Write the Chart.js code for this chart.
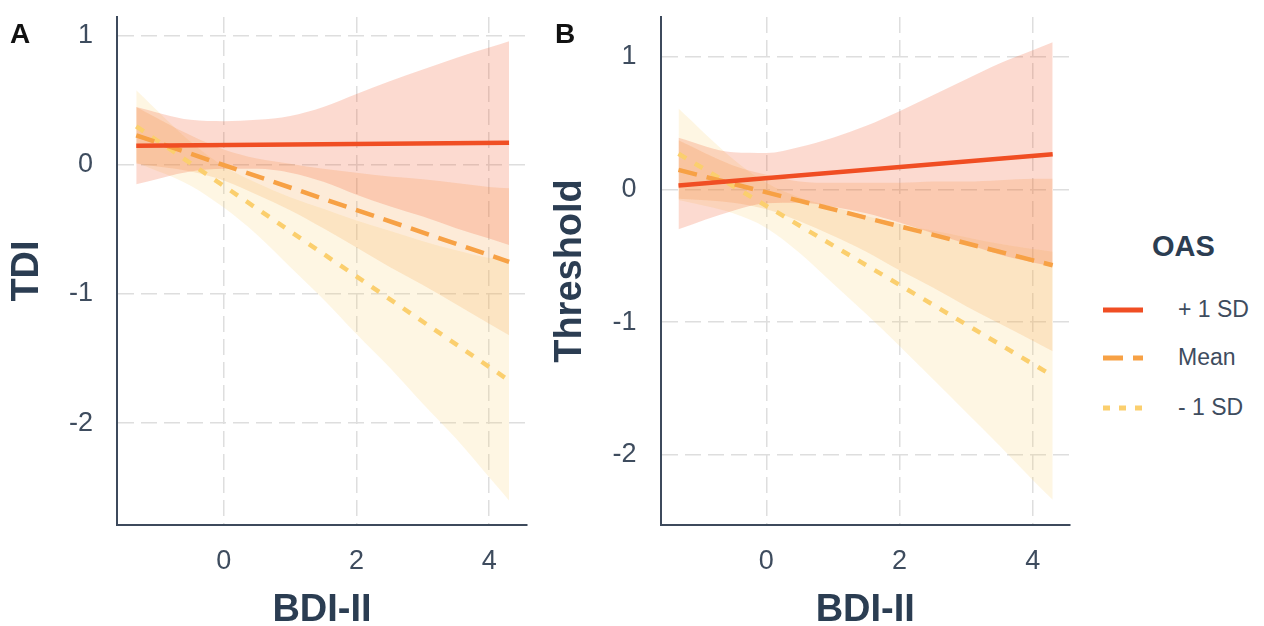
<!DOCTYPE html>
<html>
<head>
<meta charset="utf-8">
<script src="https://cdn.jsdelivr.net/npm/chart.js@4.4.1/dist/chart.umd.min.js"></script>
<style>
  body { margin: 0; background: #fff; width: 1264px; height: 626px; overflow: hidden; position: relative;
         font-family: 'Liberation Sans', Arial, sans-serif; }
  canvas { position: absolute; top: 0; }
  #chartA { left: 0; }
  #chartB { left: 540px; }
  .tag { position: absolute; font-weight: bold; font-size: 28px; color: #111; line-height: 1; }
  .leg-title { position: absolute; left: 1152px; top: 232px; font-weight: bold; font-size: 29px; color: #2b3d52; line-height: 1; }
  .leg-row { position: absolute; left: 1100px; height: 30px; width: 164px; }
  .leg-row svg { position: absolute; left: 0; top: 0; }
  .leg-row span { position: absolute; left: 78px; top: 3px; font-size: 23px; color: #3e4c5e; line-height: 1; }
</style>
</head>
<body>
<canvas id="chartA" width="540" height="626"></canvas>
<canvas id="chartB" width="540" height="626"></canvas>
<div class="tag" style="left:10px; top:20px;">A</div>
<div class="tag" style="left:555px; top:20px;">B</div>

<div class="leg-title">OAS</div>
<div class="leg-row" style="top:295px;">
  <svg width="60" height="30"><line x1="3" y1="15" x2="43" y2="15" stroke="#f04e23" stroke-width="5"/></svg>
  <span id="leg0"></span>
</div>
<div class="leg-row" style="top:343px;">
  <svg width="60" height="30"><line x1="3" y1="15" x2="43" y2="15" stroke="#f7a145" stroke-width="5" stroke-dasharray="20 10"/></svg>
  <span id="leg1"></span>
</div>
<div class="leg-row" style="top:393px;">
  <svg width="60" height="30"><line x1="3" y1="15" x2="43" y2="15" stroke="#fbcf6e" stroke-width="5" stroke-dasharray="7 9"/></svg>
  <span id="leg2"></span>
</div>

<script>
// --- DADOS ---
const seriesLabels = ['+ 1 SD', 'Mean', '- 1 SD'];
const xSteps = [-1.32, -0.5, 0, 0.5, 1, 1.5, 2, 2.5, 3, 3.5, 4, 4.3];
const xEnds = [-1.32, 4.3];
const xTicks = [0, 2, 4];
const yTicks = [-2, -1, 0, 1];

// Painel A (TDI)
const tdiPlusLine = [0.15, 0.172];
const tdiMeanLine = [0.23, -0.75];
const tdiMinusLine = [0.30, -1.67];
const tdiPlusUpper = [0.45, 0.35, 0.34, 0.35, 0.38, 0.45, 0.55, 0.65, 0.74, 0.83, 0.91, 0.96];
const tdiPlusLower = [-0.15, -0.05, -0.03, -0.03, -0.06, -0.13, -0.23, -0.32, -0.40, -0.49, -0.57, -0.62];
const tdiMeanUpper = [0.45, 0.23, 0.12, 0.05, 0.01, -0.03, -0.06, -0.09, -0.11, -0.14, -0.17, -0.18];
const tdiMeanLower = [0.01, -0.05, -0.12, -0.23, -0.35, -0.49, -0.64, -0.79, -0.93, -1.08, -1.23, -1.32];
const tdiMinusUpper = [0.58, 0.18, -0.01, -0.14, -0.25, -0.34, -0.43, -0.51, -0.59, -0.66, -0.72, -0.74];
const tdiMinusLower = [0.02, -0.16, -0.33, -0.54, -0.79, -1.04, -1.31, -1.57, -1.85, -2.12, -2.42, -2.60];

// Painel B (Threshold)
const thrPlusLine = [0.03, 0.266];
const thrMeanLine = [0.147, -0.572];
const thrMinusLine = [0.269, -1.405];
const thrPlusUpper = [0.39, 0.28, 0.275, 0.32, 0.39, 0.48, 0.59, 0.71, 0.83, 0.95, 1.05, 1.11];
const thrPlusLower = [-0.30, -0.16, -0.105, -0.10, -0.13, -0.18, -0.25, -0.33, -0.41, -0.49, -0.55, -0.58];
const thrMeanUpper = [0.37, 0.18, 0.11, 0.06, 0.05, 0.05, 0.05, 0.06, 0.06, 0.07, 0.08, 0.08];
const thrMeanLower = [-0.07, -0.10, -0.15, -0.24, -0.35, -0.47, -0.61, -0.74, -0.88, -1.01, -1.14, -1.22];
const thrMinusUpper = [0.61, 0.23, 0.05, -0.06, -0.13, -0.20, -0.26, -0.31, -0.36, -0.41, -0.45, -0.47];
const thrMinusLower = [-0.08, -0.18, -0.29, -0.48, -0.71, -0.94, -1.18, -1.43, -1.68, -1.93, -2.19, -2.34];

// --- ESTILO ---
const lineColors = ['#f04e23', '#f7a145', '#fbcf6e'];
const bandColors = ['rgba(240, 78, 35, 0.21)', 'rgba(247, 161, 69, 0.21)', 'rgba(252, 208, 114, 0.2)'];
const lineDashes = [[], [19, 10], [9, 10]];
const axisColor = '#3d4a5c';
const tickColor = '#3e4c5e';
const titleColor = '#2b3d52';

Chart.defaults.font.family = "'Liberation Sans', Arial, sans-serif";

seriesLabels.forEach((label, i) => {
    document.getElementById('leg' + i).textContent = label;
});

function toPoints(xs, ys) {
    return xs.map((x, i) => ({ x: x, y: ys[i] }));
}

function makePanel(canvasId, p) {
    const ctx = document.getElementById(canvasId).getContext('2d');

    const datasets = [];
    // linhas primeiro (ficam por cima)
    p.lines.forEach((ys, i) => {
        datasets.push({
            label: seriesLabels[i],
            data: toPoints(xEnds, ys),
            borderColor: lineColors[i],
            borderWidth: 4.5,
            borderDash: lineDashes[i],
            pointRadius: 0,
            fill: false
        });
    });
    // faixas de confiança
    p.bands.forEach((band, i) => {
        datasets.push({
            data: toPoints(xSteps, band[0]),
            borderWidth: 0,
            pointRadius: 0,
            backgroundColor: bandColors[i],
            cubicInterpolationMode: 'monotone',
            fill: '+1'
        });
        datasets.push({
            data: toPoints(xSteps, band[1]),
            borderWidth: 0,
            pointRadius: 0,
            cubicInterpolationMode: 'monotone',
            fill: false
        });
    });

    const gridStyle = { color: '#dedede', lineWidth: 1.5, drawTicks: false };
    const borderStyle = { display: true, color: axisColor, width: 2, dash: [16, 7] };

    return new Chart(ctx, {
        type: 'line',
        data: { datasets: datasets },
        options: {
            responsive: false,
            animation: false,
            devicePixelRatio: 1,
            layout: { padding: { left: 0, top: 17, right: p.rightPad, bottom: 0 } },
            plugins: { legend: { display: false }, tooltip: { enabled: false } },
            scales: {
                x: {
                    type: 'linear',
                    min: p.xMin,
                    max: p.xMax,
                    grid: gridStyle,
                    border: borderStyle,
                    afterBuildTicks: s => { s.ticks = xTicks.map(v => ({ value: v })); },
                    afterFit: s => { s.height = 101; s.paddingLeft = 0; s.paddingRight = 0; },
                    ticks: { color: tickColor, font: { size: 27 }, padding: 20, callback: v => String(v) },
                    title: {
                        display: true, text: 'BDI-II', color: titleColor,
                        font: { size: 38, weight: 'bold', lineHeight: 0.84 }, padding: { top: 0, bottom: 0 }
                    }
                },
                y: {
                    type: 'linear',
                    min: p.yMin,
                    max: p.yMax,
                    grid: gridStyle,
                    border: borderStyle,
                    afterBuildTicks: s => { s.ticks = yTicks.map(v => ({ value: v })); },
                    afterFit: s => { s.width = p.yAxisWidth; s.paddingTop = 0; s.paddingBottom = 0; },
                    ticks: { color: tickColor, font: { size: 27 }, padding: 24, callback: v => String(v) },
                    title: {
                        display: true, text: p.yTitle, color: titleColor,
                        font: { size: 38, weight: 'bold', lineHeight: 0.84 }, padding: { top: p.titlePad, bottom: 0 }
                    }
                }
            }
        }
    });
}

makePanel('chartA', {
    lines: [tdiPlusLine, tdiMeanLine, tdiMinusLine],
    bands: [[tdiPlusUpper, tdiPlusLower], [tdiMeanUpper, tdiMeanLower], [tdiMinusUpper, tdiMinusLower]],
    yTitle: 'TDI',
    xMin: -1.61, xMax: 4.57,
    yMin: -2.79, yMax: 1.147,
    yAxisWidth: 117, rightPad: 13, titlePad: 12
});

makePanel('chartB', {
    lines: [thrPlusLine, thrMeanLine, thrMinusLine],
    bands: [[thrPlusUpper, thrPlusLower], [thrMeanUpper, thrMeanLower], [thrMinusUpper, thrMinusLower]],
    yTitle: 'Threshold',
    xMin: -1.59, xMax: 4.56,
    yMin: -2.53, yMax: 1.30,
    yAxisWidth: 120.5, rightPad: 10, titlePad: 15
});
</script>
</body>
</html>
